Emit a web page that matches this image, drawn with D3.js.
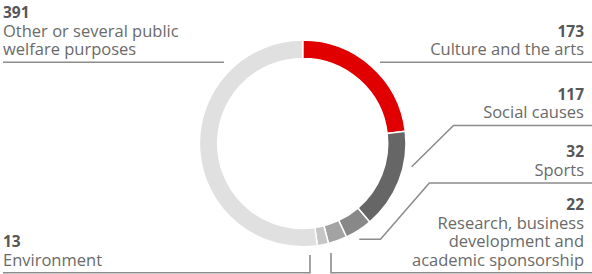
<!DOCTYPE html>
<html>
<head>
<meta charset="utf-8">
<script src="https://cdn.jsdelivr.net/npm/d3@7/dist/d3.min.js"></script>
<style>
  html, body { margin: 0; padding: 0; background: #fff; }
  svg { display: block; }
  text { font-family: "Open Sans", "Noto Sans", sans-serif; }
</style>
</head>
<body>
<svg id="chart" width="592" height="274"></svg>
<script>
// ---- data ----
const categories = [
  "Culture and the arts",
  "Social causes",
  "Sports",
  "Research, business development and academic sponsorship",
  "Environment",
  "Other or several public welfare purposes"
];
const values = [173, 117, 32, 22, 13, 391];
const labelLines = [
  ["Culture and the arts"],
  ["Social causes"],
  ["Sports"],
  ["Research, business", "development and", "academic sponsorship"],
  ["Environment"],
  ["Other or several public", "welfare purposes"]
];
const colors = ["#e00000", "#666666", "#888888", "#a3a3a3", "#c6c6c6", "#e0e0e0"];

// ---- layout (annotation positions) ----
const W = 592, H = 274;
const cx = 302.7, cy = 143.4, rOuter = 103.3, rInner = 85;
const lineH = 18.4;
const annot = [
  { ruleY: 62.3, side: "right", leader: [[592, 62.3], [380, 62.3]] },
  { ruleY: 125.5, side: "right", leader: [[592, 125.5], [453.5, 125.5], [411.7, 166.7]] },
  { ruleY: 183, side: "right", leader: [[592, 183], [429.3, 183], [380.5, 239.3], [359.3, 239.3]] },
  { ruleY: 272.8, side: "right", leader: [[592, 272.8], [331, 272.8], [331, 253]] },
  { ruleY: 272.8, side: "left", leader: [[3, 272.8], [310, 272.8], [310, 255]] },
  { ruleY: 62.3, side: "left", leader: [[3, 62.3], [224, 62.3]] }
];

const svg = d3.select("#chart");

// ---- donut ----
const pie = d3.pie().sort(null).value(d => d)(values);
const arc = d3.arc().innerRadius(rInner).outerRadius(rOuter);
const color = d3.scaleOrdinal().domain(d3.range(values.length)).range(colors);

svg.append("g")
  .attr("transform", `translate(${cx},${cy})`)
  .selectAll("path")
  .data(pie)
  .join("path")
  .attr("d", arc)
  .attr("fill", (d, i) => color(i))
  .attr("stroke", "#fff")
  .attr("stroke-width", 1.5);

// ---- leaders ----
const line = d3.line();
svg.append("g")
  .selectAll("path")
  .data(annot)
  .join("path")
  .attr("d", d => line(d.leader))
  .attr("fill", "none")
  .attr("stroke", "#8c8c8c")
  .attr("stroke-width", 1.6);

// ---- labels ----
const g = svg.append("g");
annot.forEach((a, i) => {
  const lines = labelLines[i];
  const x = a.side === "right" ? 584 : 3;
  const anchor = a.side === "right" ? "end" : "start";
  const lastBase = a.ruleY - 7.3;
  const firstBase = lastBase - lineH * (lines.length - 1);
  g.append("text")
    .attr("x", x).attr("y", firstBase - lineH)
    .attr("text-anchor", anchor)
    .attr("font-size", 15.5)
    .attr("font-weight", 700)
    .attr("fill", "#575757")
    .text(values[i]);
  lines.forEach((t, k) => {
    g.append("text")
      .attr("x", x).attr("y", firstBase + lineH * k)
      .attr("text-anchor", anchor)
      .attr("font-size", 16.5)
      .attr("fill", "#6a6a6a")
      .text(t);
  });
});
</script>
</body>
</html>
